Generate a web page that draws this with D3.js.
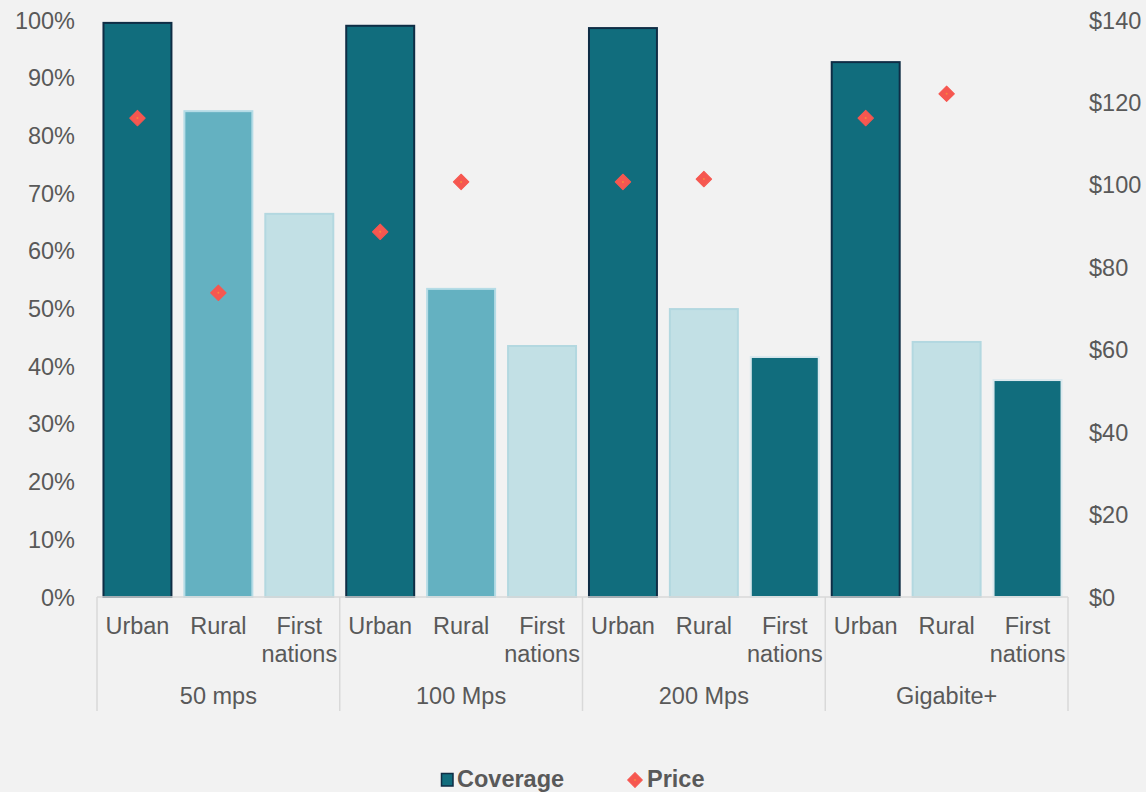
<!DOCTYPE html>
<html>
<head>
<meta charset="utf-8">
<script src="https://cdn.jsdelivr.net/npm/d3@7"></script>
<style>
  html, body { margin: 0; padding: 0; background: #f2f2f2; }
  svg { display: block; font-family: "Liberation Sans", Arial, sans-serif; }
</style>
</head>
<body>
<svg id="chart" width="1146" height="792"></svg>
<script>
// Speed tiers and population groups
const tiers = ["50 mps", "100 Mps", "200 Mps", "Gigabite+"];
const groups = ["Urban", "Rural", "First nations"];

// Coverage share (%) per tier, in group order
const coverage = [
  [99.5, 84.2, 66.4],
  [99.0, 53.4, 43.5],
  [98.6, 49.9, 41.6],
  [92.7, 44.2, 37.6]
];

// Monthly price ($) per tier; First nations has no price point
const price = [
  [116.2, 73.8, null],
  [88.6, 100.7, null],
  [100.7, 101.4, null],
  [116.2, 122.1, null]
];

// Shade of each bar: 0 = dark, 1 = medium, 2 = light
const shade = [
  [0, 1, 2],
  [0, 1, 2],
  [0, 2, 0],
  [0, 2, 0]
];

const pctTicks = [0, 10, 20, 30, 40, 50, 60, 70, 80, 90, 100];
const priceTicks = [0, 20, 40, 60, 80, 100, 120, 140];

const fills = ["#116d7d", "#64b1c1", "#c2e0e5"];
const strokes = ["#dbe9ee", "#b5dce6", "#b3d8e0"];
const urbanStroke = "#0f2d45";
const markerColor = "#f65750";
const textColor = "#595959";
const gridColor = "#d9d9d9";
const fontSize = "23.5px";

const svg = d3.select("#chart");
const plotLeft = 97, plotRight = 1068, plotTop = 20, plotBottom = 597;

const rows = [];
tiers.forEach((t, i) => groups.forEach((g, j) => rows.push({
  key: t + "|" + g, tier: t, group: g, i, j,
  cov: coverage[i][j], price: price[i][j], shade: shade[i][j]
})));

const x = d3.scaleBand().domain(rows.map(d => d.key)).range([plotLeft, plotRight]).paddingInner(0.16).paddingOuter(0.08);
const xTier = d3.scaleBand().domain(tiers).range([plotLeft, plotRight]);
const yPct = d3.scaleLinear().domain([0, 100]).range([plotBottom, plotTop]);
const yPrice = d3.scaleLinear().domain([0, 140]).range([plotBottom, plotTop]);
const cx = d => x(d.key) + x.bandwidth() / 2;

// Left axis (coverage)
const leftAxis = svg.append("g").attr("transform", `translate(${plotLeft - 22},0)`)
  .call(d3.axisLeft(yPct).tickValues(pctTicks).tickFormat(d => d + "%").tickSize(0).tickPadding(0));
leftAxis.select(".domain").remove();
leftAxis.selectAll("text").attr("fill", textColor).style("font-size", fontSize).attr("dy", "0.34em");

// Right axis (price)
const rightAxis = svg.append("g").attr("transform", `translate(${plotRight + 21},0)`)
  .call(d3.axisRight(yPrice).tickValues(priceTicks).tickFormat(d => "$" + d).tickSize(0).tickPadding(0));
rightAxis.select(".domain").remove();
rightAxis.selectAll("text").attr("fill", textColor).style("font-size", fontSize).attr("dy", "0.34em");

// Bars
svg.append("g").selectAll("rect").data(rows).join("rect")
  .attr("x", d => x(d.key))
  .attr("y", d => yPct(d.cov))
  .attr("width", x.bandwidth())
  .attr("height", d => yPct(0) - yPct(d.cov))
  .attr("fill", d => fills[d.shade])
  .attr("stroke", d => d.j === 0 ? urbanStroke : strokes[d.shade])
  .attr("stroke-width", 2);

// Category axis line and tier separators
svg.append("line").attr("x1", plotLeft).attr("x2", plotRight).attr("y1", plotBottom).attr("y2", plotBottom)
  .attr("stroke", gridColor).attr("stroke-width", 1.5);
const seps = tiers.map(t => xTier(t)).concat([plotRight]);
svg.append("g").selectAll("line").data(seps).join("line")
  .attr("x1", d => d).attr("x2", d => d).attr("y1", plotBottom).attr("y2", 711)
  .attr("stroke", gridColor).attr("stroke-width", 1.5);

// Group labels under each bar
const lbl = svg.append("g").attr("fill", textColor).style("font-size", fontSize).attr("text-anchor", "middle");
lbl.selectAll("text").data(rows).join("text")
  .attr("x", cx)
  .attr("y", 634)
  .each(function (d) {
    const words = d.group === "First nations" ? ["First", "nations"] : [d.group];
    d3.select(this).selectAll("tspan").data(words).join("tspan")
      .attr("x", cx(d))
      .attr("dy", (w, k) => k === 0 ? 0 : 28)
      .text(w => w);
  });

// Tier labels
svg.append("g").attr("fill", textColor).style("font-size", fontSize).attr("text-anchor", "middle")
  .selectAll("text").data(tiers).join("text")
  .attr("x", d => xTier(d) + xTier.bandwidth() / 2)
  .attr("y", 704)
  .text(d => d);

// Price markers
const diamond = d3.symbol().type(d3.symbolSquare).size(120);
const markers = svg.append("g").selectAll("g").data(rows.filter(d => d.price != null)).join("g")
  .attr("transform", d => `translate(${cx(d)},${yPrice(d.price)})`);
markers.append("path")
  .attr("d", diamond)
  .attr("transform", "rotate(45)")
  .attr("fill", markerColor)
  .attr("stroke", markerColor).attr("stroke-width", 1).attr("stroke-linejoin", "round");
markers.append("circle").attr("r", 1).attr("fill", "#f7883e");

// Legend
const legend = svg.append("g").style("font-size", fontSize).style("font-weight", "bold").attr("fill", textColor);
legend.append("rect").attr("x", 441.5).attr("y", 773.5).attr("width", 11.5).attr("height", 12.5)
  .attr("fill", fills[0]).attr("stroke", urbanStroke).attr("stroke-width", 1.5);
legend.append("text").attr("x", 457).attr("y", 787).text("Coverage");
const legendMarker = legend.append("g").attr("transform", "translate(635,780)");
legendMarker.append("path").attr("d", d3.symbol().type(d3.symbolSquare).size(110))
  .attr("transform", "rotate(45)").attr("fill", markerColor)
  .attr("stroke", markerColor).attr("stroke-width", 1).attr("stroke-linejoin", "round");
legendMarker.append("circle").attr("r", 1).attr("fill", "#f7883e");
legend.append("text").attr("x", 647).attr("y", 787).text("Price");
</script>
</body>
</html>
